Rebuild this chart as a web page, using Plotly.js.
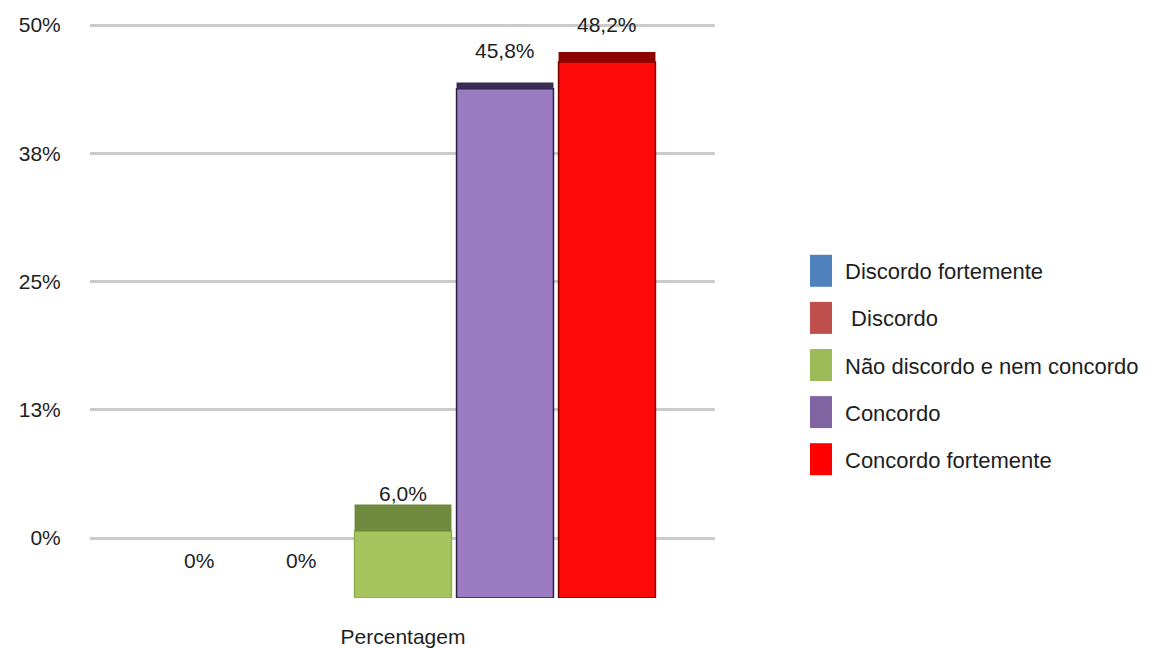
<!DOCTYPE html>
<html>
<head>
<meta charset="utf-8">
<script src="https://cdn.plot.ly/plotly-3.0.1.min.js"></script>
<style>
  html, body { margin: 0; padding: 0; background: #ffffff; }
  #chart { width: 1150px; height: 649px; }
</style>
</head>
<body>
<div id="chart"></div>
<script>
// ---- data ----
const categories = ['Percentagem'];
const seriesNames = ['Discordo fortemente', ' Discordo', 'Não discordo e nem concordo', 'Concordo', 'Concordo fortemente'];
const seriesValues = [0, 0, 6.0, 45.8, 48.2];
const tickValues = [0, 12.5, 25, 37.5, 50];
const tickLabels = ['0%', '13%', '25%', '38%', '50%'];

// ---- styling ----
const faceColors = ['#4f81bd', '#c0504d', '#a6c55f', '#9b7cc3', '#ff0a0a'];
const edgeColors = ['#4f81bd', '#c0504d', '#8fae4c', '#2b2040', '#7a0000'];
const capColors = ['#3a5f8c', '#8c3a38', '#6f8a3e', '#3a2c56', '#8c0202'];
const capDepth = [0, 0, 2.4, 0.55, 0.9];      // depth of the lit top face, axis units
const legendColors = ['#4f81bd', '#c0504d', '#9bbb59', '#8064a2', '#ff0000'];

const W = 1150, H = 649;
const FONT = '"Liberation Sans", Arial, sans-serif';
const TEXT = '#1e1e1e';

// back wall (gridlines) in pixels
const wall = { left: 90, right: 715, zeroPx: 538, topPx: 25, top: 50 };
// front plane (bars) in pixels
const front = { zeroPx: 598, pxPerUnit: 11.12, centerPx: 403, pitchPx: 102 };
const bargap = 0.2, bargroupgap = 0.05;

const fx = px => px / W;
const fy = px => (H - px) / H;

// wall axis: pad the range half a unit so the outer gridlines sit inside
const wallPxPerUnit = (wall.zeroPx - wall.topPx) / wall.top;
const pad = 0.5;
const wallDomain = [fy(wall.zeroPx + pad * wallPxPerUnit), fy(wall.topPx - pad * wallPxPerUnit)];

// bar axis: category width derived from the slot pitch
const n = seriesValues.length;
const catWidthPx = n * front.pitchPx / (1 - bargap);
const barXDomain = [fx(front.centerPx - catWidthPx / 2), fx(front.centerPx + catWidthPx / 2)];
const barTop = 50;
const barYDomain = [fy(front.zeroPx), fy(front.zeroPx - barTop * front.pxPerUnit)];

const fmt = v => v === 0 ? '0%' : v.toFixed(1).replace('.', ',') + '%';

const traces = [];
// empty trace that holds the back-wall subplot (gridlines and percentage ticks)
traces.push({
  type: 'scatter', mode: 'lines', x: [], y: [], xaxis: 'x', yaxis: 'y',
  showlegend: false, hoverinfo: 'skip'
});
seriesNames.forEach((name, i) => {
  const v = seriesValues[i];
  traces.push({
    type: 'bar', name: name, x: categories, y: [v],
    xaxis: 'x2', yaxis: 'y2',
    offsetgroup: 'g' + i, legendgroup: 'g' + i,
    marker: { color: faceColors[i], line: { color: edgeColors[i], width: v > 0 ? 1.5 : 0 } },
    hoverinfo: 'name+y'
  });
  traces.push({
    type: 'bar', name: name, x: categories, y: [v > 0 ? capDepth[i] : 0], base: [v],
    xaxis: 'x2', yaxis: 'y2',
    offsetgroup: 'g' + i, legendgroup: 'g' + i, showlegend: false,
    marker: { color: capColors[i], line: { width: 0 } },
    hoverinfo: 'skip'
  });
});

// value labels above each bar
const slot = (1 - bargap) / n;
const annotations = seriesValues.map((v, i) => ({
  xref: 'x2', yref: 'y2',
  x: -(1 - bargap) / 2 + (i + 0.5) * slot,
  y: v, yshift: 38, yanchor: 'middle',
  text: fmt(v), showarrow: false,
  font: { family: FONT, size: 21, color: TEXT }
}));

const layout = {
  width: W, height: H,
  margin: { l: 0, r: 0, t: 0, b: 0 },
  paper_bgcolor: '#ffffff',
  plot_bgcolor: 'rgba(0,0,0,0)',
  font: { family: FONT, size: 21, color: TEXT },
  barmode: 'group', bargap: bargap, bargroupgap: bargroupgap,
  separators: ',.',
  showlegend: true,
  legend: {
    x: fx(797), y: fy(250), xanchor: 'left', yanchor: 'top',
    traceorder: 'grouped', tracegroupgap: 15.5, itemwidth: 38,
    font: { family: FONT, size: 22, color: TEXT },
    bgcolor: 'rgba(0,0,0,0)'
  },
  xaxis: {
    domain: [fx(wall.left), fx(wall.right)], range: [0, 1], anchor: 'y',
    showgrid: false, zeroline: false, showticklabels: false, showline: false,
    ticks: '', fixedrange: true
  },
  yaxis: {
    domain: wallDomain, range: [-pad, wall.top + pad], anchor: 'x',
    tickmode: 'array', tickvals: tickValues, ticktext: tickLabels,
    showgrid: true, gridcolor: '#cbcbcb', gridwidth: 3,
    zeroline: false, showline: false,
    ticks: 'outside', ticklen: 24, tickcolor: 'rgba(0,0,0,0)',
    tickfont: { family: FONT, size: 21, color: TEXT }, fixedrange: true
  },
  xaxis2: {
    domain: barXDomain, anchor: 'y2', type: 'category',
    showgrid: false, zeroline: false, showline: false,
    ticks: 'outside', ticklen: 20, tickcolor: 'rgba(0,0,0,0)',
    tickfont: { family: FONT, size: 21, color: TEXT }, fixedrange: true
  },
  yaxis2: {
    domain: barYDomain, anchor: 'x2', range: [0, barTop],
    visible: false, fixedrange: true
  },
  annotations: annotations
};

Plotly.newPlot('chart', traces, layout, { displayModeBar: false, staticPlot: true }).then(gd => {
  // taller legend swatches in the series' base colours
  gd.querySelectorAll('.legend .traces').forEach((t, i) => {
    t.querySelectorAll('.legendpoints path').forEach(p => {
      p.setAttribute('d', 'M11,16H-11V-16H11Z');
      p.style.fill = legendColors[i];
      p.style.stroke = 'none';
    });
  });
});
</script>
</body>
</html>
